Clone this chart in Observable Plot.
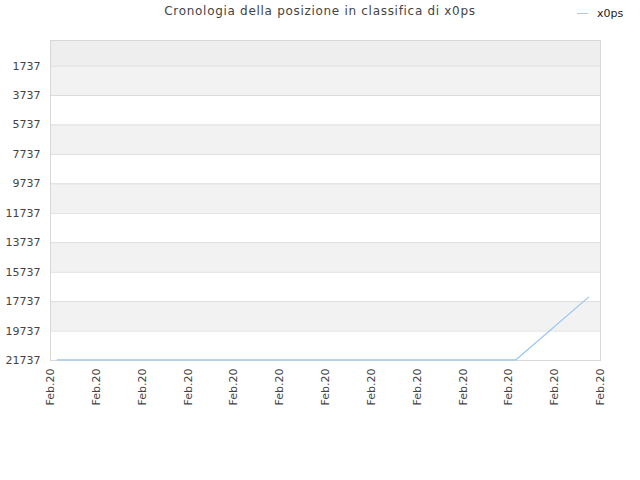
<!DOCTYPE html>
<html><head><meta charset="utf-8">
<script src="https://cdn.jsdelivr.net/npm/d3@7"></script>
<script src="https://cdn.jsdelivr.net/npm/@observablehq/plot@0.6"></script>
<style>
body{margin:0;background:#fff;font-family:"DejaVu Sans",sans-serif;}
#wrap{position:relative;width:640px;height:480px;}
#title{position:absolute;left:0;width:640px;top:4px;text-align:center;font-size:12px;letter-spacing:0.7px;color:#444;}
#legend{position:absolute;left:577px;top:7px;font-size:11px;color:#222;display:flex;align-items:center;}
#legend span.sw{display:inline-block;width:11px;height:0;border-top:1.5px solid #9ecbf3;margin-right:9px;}
</style></head>
<body><div id="wrap">
<div id="title">Cronologia della posizione in classifica di x0ps</div>
<div id="legend"><span class="sw"></span>x0ps</div>
</div>
<script>
const seriesName = "x0ps";
const xLabels = ["Feb.20","Feb.20","Feb.20","Feb.20","Feb.20","Feb.20","Feb.20","Feb.20","Feb.20","Feb.20","Feb.20","Feb.20","Feb.20"];
const yTicks = [1737,3737,5737,7737,9737,11737,13737,15737,17737,19737,21737];
const timeIdx = [0.15, 10.15, 11.74];
const ranks = [21700, 21700, 17430];

const data = timeIdx.map((t,i)=>({t, r: ranks[i]}));
const bandEdges = [0, ...yTicks];
const bands = bandEdges.slice(0,-1).map((y1,i)=>({y1, y2: bandEdges[i+1], fill: i===0 ? "#eeeeee" : (i%2===1 ? "#f2f2f2" : "#ffffff")}));

const chart = Plot.plot({
  width: 640, height: 480,
  marginLeft: 50, marginRight: 40, marginTop: 40, marginBottom: 120,
  style: {fontFamily: "DejaVu Sans, sans-serif", fontSize: "11px", color: "#444", background: "transparent"},
  x: {domain: [0, xLabels.length-1], axis: null},
  y: {domain: [21737, 0], axis: null},
  marks: [
    Plot.rect(bands, {x1: 0, x2: xLabels.length-1, y1: "y1", y2: "y2", fill: "fill"}),
    Plot.ruleY(yTicks, {stroke: "#dddddd"}),
    Plot.frame({stroke: "#d8d8d8"}),
    Plot.axisY({ticks: yTicks, tickFormat: d => String(d), tickSize: 0, tickPadding: 10, label: null, fill: "#444"}),
    Plot.axisX({ticks: d3.range(xLabels.length), tickFormat: i => xLabels[i], tickSize: 0, tickPadding: 8, tickRotate: -90, label: null, fill: "#444"}),
    Plot.line(data, {x: "t", y: "r", stroke: "#96c6f2", strokeWidth: 1.2})
  ]
});
chart.style.position = "absolute";
chart.style.left = "0px";
chart.style.top = "0px";
document.getElementById("wrap").appendChild(chart);
</script>
</body></html>
